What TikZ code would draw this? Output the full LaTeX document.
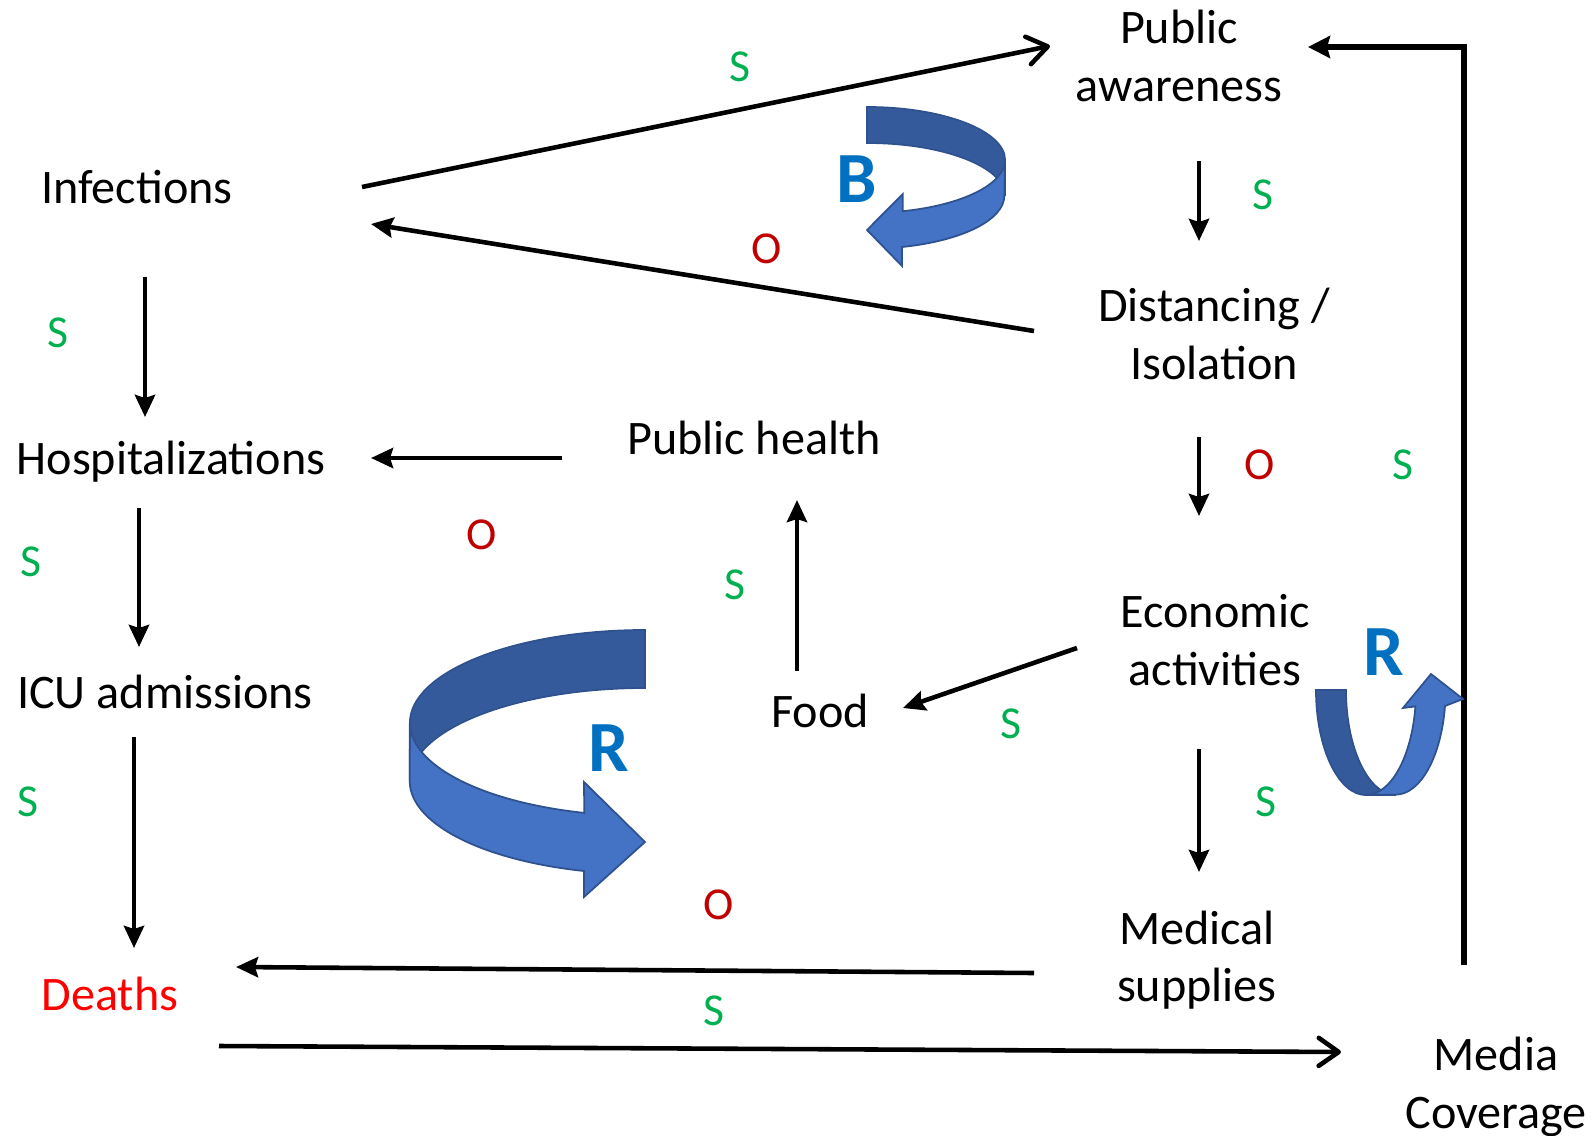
\documentclass[tikz,border=0pt]{standalone}
\usepackage{fontspec}
\setmainfont{Carlito}
\usetikzlibrary{arrows.meta}
\definecolor{sgreen}{HTML}{00B050}
\definecolor{ored}{HTML}{C00000}
\definecolor{deathred}{HTML}{FF0000}
\definecolor{loopblue}{HTML}{0070C0}
\definecolor{looplight}{HTML}{4472C4}
\definecolor{loopdark}{HTML}{355A9B}
\definecolor{loopedge}{HTML}{2F528F}
\tikzset{
  box/.style={align=center, inner sep=0pt, font=\fontsize{13.7}{16.4}\selectfont},
  plus/.style={text=sgreen, inner sep=0pt, font=\fontsize{13}{13}\selectfont},
  minus/.style={text=ored, inner sep=0pt, font=\fontsize{13}{13}\selectfont},
  loopletter/.style={text=loopblue, inner sep=0pt, font=\fontsize{20.5}{20.5}\selectfont\bfseries},
  arr/.style={-{Stealth[length=0.22cm,width=0.2cm,inset=0.03cm]}, line width=1.3pt},
  barb/.style={-{Straight Barb[length=0.2cm,width=0.28cm,round]}, line width=1.3pt},
  mediaarr/.style={-{Stealth[length=0.22cm,width=0.22cm,inset=0.03cm]}, line width=1.9pt},
  loopback/.style={fill=loopdark, draw=loopedge, line width=0.5pt},
  loopfront/.style={fill=looplight, draw=loopedge, line width=0.5pt}
}
\begin{document}
\begin{tikzpicture}[x=0.01cm, y=0.01cm]
\useasboundingbox (0,0) rectangle (1593,-1136);
% factors
\node[box] (infect) at (137,-187) {Infections};
\node[box] (aware) at (1179,-56) {Public\\awareness};
\node[box] (dist) at (1214,-334) {Distancing /\\Isolation};
\node[box] (health) at (754,-438) {Public health};
\node[box] (hosp) at (171,-462) {Hospitalizations};
\node[box] (econ) at (1215,-640) {Economic\\activities};
\node[box] (food) at (820,-711) {Food};
\node[box] (icu) at (165,-692) {ICU admissions};
\node[box] (med) at (1197,-960) {Medical\\supplies};
\node[box, text=deathred] (deaths) at (110,-994) {Deaths};
\node[box] (media) at (1496,-1087) {Media\\Coverage};
% links
\draw[barb] ([shift={(225,0)}]infect.center) -- ([shift={(-129,10)}]aware.center);
\draw[arr] ([shift={(-180,3)}]dist.center) -- ([shift={(234,-37)}]infect.center);
\draw[arr] ([shift={(20,-105)}]aware.center) -- ([shift={(-15,93)}]dist.center);
\draw[arr] ([shift={(-15,-103)}]dist.center) -- ([shift={(-16,124)}]econ.center);
\draw[arr] ([shift={(-138,-8)}]econ.center) -- ([shift={(83,3)}]food.center);
\draw[arr] ([shift={(-16,-109)}]econ.center) -- ([shift={(2,88)}]med.center);
\draw[arr] ([shift={(-23,40)}]food.center) -- ([shift={(43,-62)}]health.center);
\draw[arr] ([shift={(-192,-20)}]health.center) -- ([shift={(200,4)}]hosp.center);
\draw[arr] ([shift={(8,-90)}]infect.center) -- ([shift={(-26,45)}]hosp.center);
\draw[arr] ([shift={(-32,-46)}]hosp.center) -- ([shift={(-26,45)}]icu.center);
\draw[arr] ([shift={(-31,-45)}]icu.center) -- ([shift={(24,46)}]deaths.center);
\draw[arr] ([shift={(-163,-13)}]med.center) -- ([shift={(126,27)}]deaths.center);
\draw[barb] ([shift={(109,-52)}]deaths.center) -- ([shift={(-155,35)}]media.center);
\draw[mediaarr] ([shift={(-32,122)}]media.center) |- ([shift={(129,9)}]aware.center);
% polarities
\node[plus] (s1) at (740,-67) {S};
\node[plus] (s2) at (1263,-195) {S};
\node[minus] (o1) at (767,-249) {O};
\node[plus] (s3) at (58,-333) {S};
\node[minus] (o2) at (1260,-465) {O};
\node[plus] (s4) at (1403,-465) {S};
\node[minus] (o3) at (482,-535) {O};
\node[plus] (s5) at (31,-562) {S};
\node[plus] (s6) at (735,-585) {S};
\node[plus] (s7) at (1011,-724) {S};
\node[plus] (s8) at (28,-802) {S};
\node[plus] (s9) at (1266,-802) {S};
\node[minus] (o4) at (719,-905) {O};
\node[plus] (s10) at (714,-1011) {S};
% loop arrows
\draw[loopback] (867,-107) arc[start angle=90, end angle=0, x radius=1.38cm, y radius=0.53cm] -- ++(0,-36)
  arc[start angle=0, end angle=90, x radius=1.38cm, y radius=0.53cm] -- cycle;
\draw[loopfront] (1005,-160) arc[start angle=0, end angle=-75, x radius=1.38cm, y radius=0.53cm] -- ++(0,17)
  -- (867,-230) -- (902,-266) -- (902,-247)
  arc[start angle=-75, end angle=0, x radius=1.38cm, y radius=0.53cm] -- cycle;
\draw[loopback] (645,-630) arc[start angle=90, end angle=180, x radius=2.35cm, y radius=0.93cm] -- ++(0,-58)
  arc[start angle=180, end angle=90, x radius=2.35cm, y radius=0.93cm] -- cycle;
\draw[loopfront] (410,-723) arc[start angle=180, end angle=255, x radius=2.35cm, y radius=0.93cm]
  -- (584,-782) -- (645,-842) -- (584,-897) -- (584,-871)
  arc[start angle=255, end angle=180, x radius=2.35cm, y radius=0.93cm] -- cycle;
\draw[loopback] (1316,-690) arc[start angle=180, end angle=270, x radius=0.5cm, y radius=1.05cm] -- (1396,-795)
  arc[start angle=270, end angle=180, x radius=0.5cm, y radius=1.05cm] -- cycle;
\draw[loopfront] (1366,-795) arc[start angle=270, end angle=351, x radius=0.5cm, y radius=1.05cm]
  -- (1403,-708) -- (1431,-674) -- (1463,-699) -- (1445,-706)
  arc[start angle=351, end angle=270, x radius=0.5cm, y radius=1.05cm] -- cycle;
\node[loopletter] (bal) at (857,-179) {B};
\node[loopletter] (rein1) at (609,-748) {R};
\node[loopletter] (rein2) at (1384,-652) {R};
\end{tikzpicture}
\end{document}
